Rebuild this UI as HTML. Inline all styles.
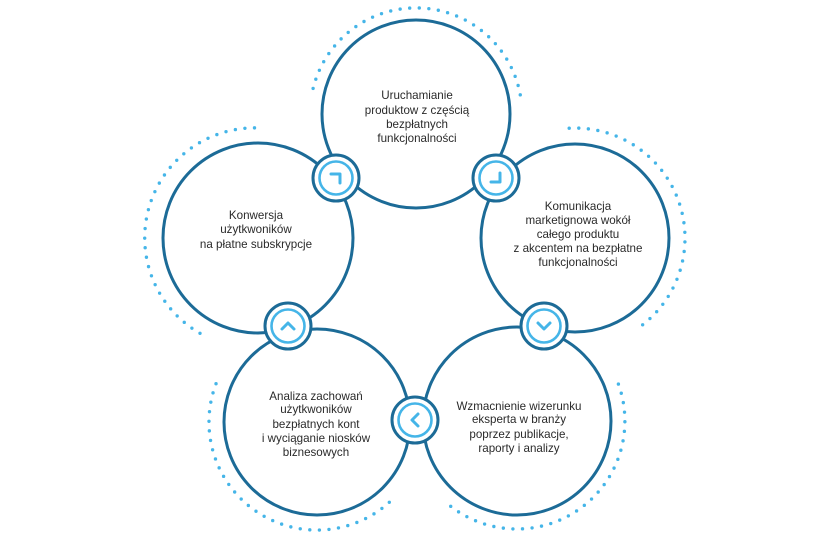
<!DOCTYPE html>
<html><head><meta charset="utf-8"><style>
html,body{margin:0;padding:0;background:#fff;}
svg{display:block}
text{font-family:"Liberation Sans",sans-serif;font-size:11.6px;fill:#2a2a2a;text-anchor:middle}
</style></head><body>
<svg width="834" height="555" viewBox="0 0 834 555" xmlns="http://www.w3.org/2000/svg">
<g fill="none" stroke="#45b5e8" stroke-width="3.4" stroke-linecap="round" stroke-dasharray="0 9.6">
<path d="M313.1,88.4 A106,106 0 0 1 520.4,95.6"/>
<path d="M200.0,333.3 A110,110 0 0 1 261.8,128.1"/>
<path d="M569.2,128.2 A110,110 0 0 1 634.9,330.3"/>
<path d="M618.4,384.1 A108,108 0 0 1 444.7,501.3"/>
<path d="M389.3,502.3 A108,108 0 0 1 216.9,381.5"/>
</g>
<g fill="none" stroke="#1c6b97" stroke-width="3">
<circle cx="416" cy="114" r="94"/>
<circle cx="258" cy="238" r="95"/>
<circle cx="575" cy="238" r="94"/>
<circle cx="317" cy="422" r="93"/>
<circle cx="517" cy="421" r="94"/>
</g>
<g fill="#fff" stroke="#1c6b97" stroke-width="3">
<circle cx="336" cy="178" r="23"/>
<circle cx="496" cy="178" r="23"/>
<circle cx="288" cy="326" r="23"/>
<circle cx="544" cy="326" r="23"/>
<circle cx="415" cy="420" r="23"/>
</g>
<g fill="none" stroke="#45b5e8" stroke-width="2.6" stroke-linecap="round" stroke-linejoin="round">
<circle cx="336" cy="178" r="16.5"/>
<circle cx="496" cy="178" r="16.5"/>
<circle cx="288" cy="326" r="16.5"/>
<circle cx="544" cy="326" r="16.5"/>
<circle cx="415" cy="420" r="16.5"/>
<path d="M331,174 H340 V183" stroke-width="3"/>
<path d="M500,173 V182 H491" stroke-width="3"/>
<path d="M282,329 L288,323 L294,329" stroke-width="3"/>
<path d="M538,323 L544,329 L550,323" stroke-width="3"/>
<path d="M418,414 L412,420 L418,426" stroke-width="3"/>
</g>
<text x="417" y="99">Uruchamianie</text>
<text x="417" y="114">produktow z częścią</text>
<text x="417" y="128">bezpłatnych</text>
<text x="417" y="142">funkcjonalności</text>
<text x="256" y="219">Konwersja</text>
<text x="256" y="233">użytkwoników</text>
<text x="256" y="248">na płatne subskrypcje</text>
<text x="578" y="210">Komunikacja</text>
<text x="578" y="224">marketignowa wokół</text>
<text x="578" y="238">całego produktu</text>
<text x="578" y="252">z akcentem na bezpłatne</text>
<text x="578" y="266">funkcjonalności</text>
<text x="316" y="400">Analiza zachowań</text>
<text x="316" y="413">użytkwoników</text>
<text x="316" y="428">bezpłatnych kont</text>
<text x="316" y="442">i wyciąganie niosków</text>
<text x="316" y="456">biznesowych</text>
<text x="519" y="410">Wzmacnienie wizerunku</text>
<text x="519" y="423">eksperta w branży</text>
<text x="519" y="438">poprzez publikacje,</text>
<text x="519" y="452">raporty i analizy</text>
</svg>
</body></html>
